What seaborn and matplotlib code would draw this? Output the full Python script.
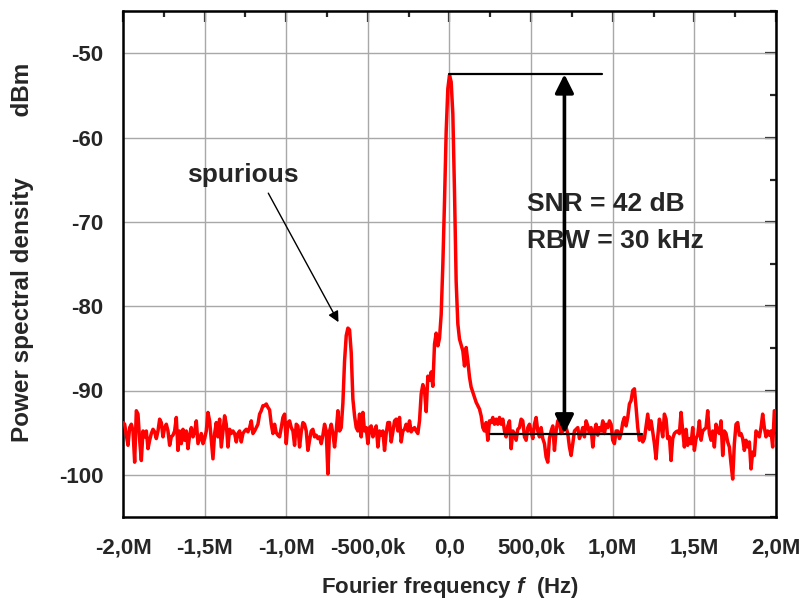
import numpy as np
import pandas as pd
import matplotlib
matplotlib.use("Agg")
import matplotlib.pyplot as plt
import seaborn as sns
from matplotlib.ticker import MultipleLocator, NullFormatter

# ---------------- data ----------------
# PSD trace (dBm), uniform sweep from -2 MHz to +2 MHz
psd_noise_left = [
    -93.8, -94.0, -95.3, -96.5, -94.4, -94.0, -94.8, -98.5, -92.4, -92.8,
    -95.9, -98.3, -94.8, -95.5, -94.8, -96.9, -95.9, -95.1, -94.6, -94.9,
    -95.7, -94.8, -93.4, -93.8, -95.5, -94.4, -94.0, -94.8, -96.5, -95.5,
    -95.3, -94.8, -93.2, -97.1, -94.8, -96.3, -94.6, -95.9, -94.8, -96.9,
    -95.3, -94.4, -95.5, -94.9, -93.6, -96.3, -95.7, -95.1, -96.3, -95.7,
    -94.8, -92.6, -93.6, -95.9, -98.1, -95.1, -93.8, -95.5, -93.4, -96.7,
    -94.8, -93.0, -94.0, -96.7, -94.6, -95.1, -94.8, -95.1, -96.1, -95.1,
    -94.8, -96.1, -95.1, -94.8, -94.6, -94.9, -94.4, -93.6, -95.1, -94.8,
    -94.4, -94.0, -92.8, -92.4, -91.8, -91.8, -91.6, -92.0, -92.3, -94.0,
    -95.1, -94.0, -95.0, -95.3, -95.5,
    -94.4, -93.2, -92.8, -96.3, -93.8,
    -93.6, -94.4, -94.8, -96.5, -94.0, -94.2, -96.7, -94.9, -93.8, -94.0,
    -94.8, -97.1, -95.9, -94.8, -94.6, -95.5, -95.3, -95.7, -95.5, -96.3,
    -95.3, -94.0, -94.8, -99.9, -94.8, -94.0, -95.1, -96.7, -94.8, -92.4,
    -94.8, -94.4,
]
psd_spur = [-91.5, -86.5, -83.5, -82.6, -82.8, -85.5, -91.0]
psd_noise_mid = [
    -93.0,
    -94.4, -94.8, -92.8, -95.5, -92.6, -94.8, -94.4, -96.3, -94.4, -94.2,
    -95.5, -94.8, -94.2, -96.7, -94.8, -95.3, -94.8, -97.1, -95.1, -93.8,
    -93.8, -96.1, -94.9, -93.6, -93.4, -94.8, -93.2, -96.1, -94.8, -94.6,
    -94.0, -94.8, -93.6, -94.9, -94.6, -94.4, -94.8, -95.1, -93.6,
    -90.4, -89.3, -90.0, -92.5, -88.3, -88.8, -87.8, -89.5, -84.5, -83.2,
    -84.7, -83.8,
]
psd_carrier = [
    -81.0, -75.1, -67.6, -59.3, -54.2, -52.6, -53.4, -57.2, -66.4, -77.1,
    -82.1, -83.9, -84.6, -85.3, -87.1, -84.9, -86.5, -88.4, -89.6, -90.2,
]
psd_noise_right = [
    -90.8, -91.4, -91.8, -92.2, -93.0, -94.4, -94.8, -93.8, -95.9,
    -93.6, -93.8, -93.2, -94.0, -93.4, -94.0, -93.2, -94.0, -93.4, -94.8,
    -95.5, -94.2, -93.6, -96.9, -94.8, -95.1, -95.9, -94.6, -94.4, -93.4,
    -93.6, -95.5, -95.9, -94.4, -94.0, -94.9, -95.7, -94.0, -93.2, -94.8,
    -95.5, -94.4, -95.7, -96.3, -97.9, -98.5, -95.7, -94.8, -94.2, -97.1,
    -94.8, -93.6, -93.4, -95.1, -94.8, -94.4, -94.4, -95.1, -96.7, -97.7,
    -96.3, -94.8, -94.6, -94.4, -95.7, -95.1, -94.4, -95.5, -93.6, -94.2,
    -95.1, -94.4, -96.7, -94.8, -94.0, -95.3, -94.4, -94.8, -93.6, -95.1,
    -94.0, -94.4, -93.6,
    -94.0, -95.9, -96.3, -94.8, -94.8, -95.7, -95.1,
    -93.8, -93.2, -94.2, -93.2, -91.6, -91.2, -90.0, -89.8, -92.0, -94.4,
    -95.9, -95.3, -96.1, -95.7, -94.2, -92.8, -94.6, -93.6, -94.9, -96.3,
    -98.1, -95.5, -93.4, -94.2, -95.5, -92.8, -93.4, -95.7, -95.5, -98.3,
    -95.7, -95.1, -94.9, -94.8, -95.1, -92.6, -94.8, -96.7, -94.6, -96.5,
    -95.7, -96.3, -94.4, -97.1, -95.7, -95.3, -93.6, -95.9, -94.8, -94.6,
    -94.4, -92.4, -95.1, -95.9, -94.8, -96.7, -94.0, -94.8, -95.1, -93.6,
    -97.7, -94.8, -95.1, -96.1, -96.7, -98.7, -100.5, -96.3, -94.0, -93.8,
    -95.3, -95.1, -95.7, -97.1, -95.9, -96.7, -96.1, -99.3, -97.3, -97.7,
    -94.8, -95.1, -95.5, -94.4, -92.8, -94.4, -95.5, -94.8, -95.3, -94.8,
    -96.7, -92.4, -92.4,
]
psd_dbm = psd_noise_left + psd_spur + psd_noise_mid + psd_carrier + psd_noise_right
freq_hz = np.linspace(-2.0e6, 2.0e6, len(psd_dbm))

x_ticks = [-2.0e6, -1.5e6, -1.0e6, -0.5e6, 0.0, 0.5e6, 1.0e6, 1.5e6, 2.0e6]
x_tick_labels = ["-2,0M", "-1,5M", "-1,0M", "-500,0k", "0,0", "500,0k", "1,0M", "1,5M", "2,0M"]
y_ticks = [-100, -90, -80, -70, -60, -50]
y_tick_labels = ["-100", "-90", "-80", "-70", "-60", "-50"]

carrier_level = -52.5
noise_level = -95.1
snr_text = "SNR = 42 dB"
rbw_text = "RBW = 30 kHz"
spur_tip = (-0.68e6, -81.9)

# ---------------- style ----------------
sns.set_style("white")
plt.rcParams["font.family"] = ["Liberation Sans", "DejaVu Sans"]
plt.rcParams["mathtext.fontset"] = "custom"
plt.rcParams["mathtext.it"] = "Liberation Sans:italic:bold"
plt.rcParams["mathtext.rm"] = "Liberation Sans:bold"

fig = plt.figure(figsize=(8.04, 6.03), dpi=100)
ax = fig.add_axes([123 / 804, 1 - 517 / 603, 653 / 804, 506 / 603])

df = pd.DataFrame({"freq": freq_hz, "psd": psd_dbm})
sns.lineplot(data=df, x="freq", y="psd", color="#ff0000", linewidth=2.5, ax=ax, zorder=3)

ax.set_xlim(-2.0e6, 2.0e6)
ax.set_ylim(-105, -45)
ax.set_xticks(x_ticks)
ax.set_xticklabels(x_tick_labels, fontsize=16, fontweight="bold")
ax.set_yticks(y_ticks)
ax.set_yticklabels(y_tick_labels, fontsize=16, fontweight="bold")
ax.xaxis.set_minor_locator(MultipleLocator(250000))
ax.yaxis.set_minor_locator(MultipleLocator(5))
ax.tick_params(which="major", direction="out", length=8, width=1.6, color="black", pad=6)
ax.tick_params(which="minor", direction="out", length=4, width=1.6, color="black")
ax.tick_params(axis="x", which="major", pad=7)

ax.grid(True, which="major", color="#a8a8a8", linewidth=1.0)
ax.set_axisbelow(True)
for s in ax.spines.values():
    s.set_linewidth(1.8)
    s.set_color("black")

# mirrored ticks on top / right pointing inward
top = ax.secondary_xaxis("top")
top.set_xticks(x_ticks)
top.xaxis.set_major_formatter(NullFormatter())
top.xaxis.set_minor_locator(MultipleLocator(250000))
top.tick_params(which="major", direction="in", length=8, width=1.6)
top.tick_params(which="minor", direction="in", length=4, width=1.6)
right = ax.secondary_yaxis("right")
right.set_yticks(y_ticks)
right.yaxis.set_major_formatter(NullFormatter())
right.yaxis.set_minor_locator(MultipleLocator(5))
right.tick_params(which="major", direction="in", length=8, width=1.6)
right.tick_params(which="minor", direction="in", length=4, width=1.6)

ax.set_xlabel("Fourier frequency $f$  (Hz)", fontsize=16, fontweight="bold", labelpad=12)
ax.set_ylabel("Power spectral density         dBm", fontsize=17.5, fontweight="bold")
ax.yaxis.set_label_coords(-0.137, 0.522)

# SNR markers
ax.plot([0.0, 0.934e6], [carrier_level, carrier_level], color="black", lw=1.6, zorder=4)
ax.plot([0.248e6, 1.177e6], [noise_level, noise_level], color="black", lw=1.6, zorder=4)
ax.annotate("", xy=(0.704e6, carrier_level), xytext=(0.704e6, noise_level),
            arrowprops=dict(arrowstyle="<|-|>", color="black", lw=2.6,
                            mutation_scale=28, shrinkA=0, shrinkB=0), zorder=5)
ax.text(0.475e6, -67.9, snr_text, fontsize=19, fontweight="bold", ha="left", va="center")
ax.text(0.475e6, -72.3, rbw_text, fontsize=19, fontweight="bold", ha="left", va="center")

# spurious label
ax.text(-1.265e6, -64.5, "spurious", fontsize=19, fontweight="bold", ha="center", va="center")
ax.annotate("", xy=spur_tip, xytext=(-1.11e6, -66.6),
            arrowprops=dict(arrowstyle="-|>", color="black", lw=1.0,
                            mutation_scale=16, shrinkA=0, shrinkB=0))

fig.savefig("out.png", dpi=100)
